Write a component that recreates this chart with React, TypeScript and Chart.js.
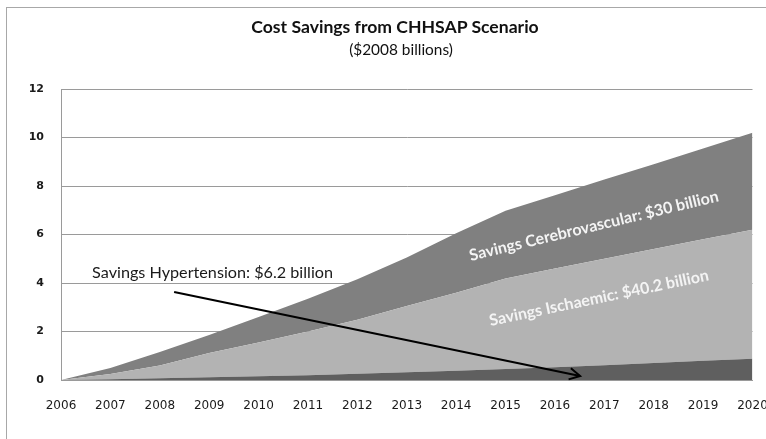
import { useEffect, useRef } from "react";
import { Chart, registerables } from "chart.js";

Chart.register(...registerables);

const years = ["2006", "2007", "2008", "2009", "2010", "2011", "2012", "2013", "2014", "2015", "2016", "2017", "2018", "2019", "2020"];
const hypertension = [0, 0.03, 0.07, 0.11, 0.15, 0.2, 0.26, 0.32, 0.38, 0.45, 0.53, 0.61, 0.7, 0.79, 0.88];
const ischaemic = [0, 0.22, 0.53, 1.0, 1.4, 1.8, 2.22, 2.73, 3.22, 3.74, 4.07, 4.39, 4.7, 5.01, 5.32];
const cerebrovascular = [0, 0.25, 0.55, 0.75, 1.05, 1.35, 1.67, 2.0, 2.45, 2.79, 3.02, 3.27, 3.5, 3.75, 4.0];
const yMin = 0;
const yMax = 12;
const yStep = 2;

const titleText = "Cost Savings from CHHSAP Scenario";
const subtitleText = "($2008 billions)";
const hypLabel = "Savings Hypertension: $6.2 billion";
const cereLabel = "Savings Cerebrovascular: $30 billion";
const ischLabel = "Savings Ischaemic: $40.2 billion";

// annotation anchors in data units (category index, value)
const hypLabelAt = { i: 0.63, v: 4.41 };
const arrowFrom = { i: 2.29, v: 3.63 };
const arrowTo = { i: 10.51, v: 0.165 };
const cereLabelAt = { i: 10.79, v: 6.35, rot: -13.5 };
const ischLabelAt = { i: 10.89, v: 3.38, rot: -11.8 };

const annotPlugin = {
  id: "annot",
  afterDatasetsDraw(chart: any) {
    const { ctx, scales } = chart;
    const x = scales.x;
    const y = scales.y;
    const px = (i: number) => x.getPixelForValue(i);
    const py = (v: number) => y.getPixelForValue(v);
    ctx.save();
    ctx.fillStyle = "#f4f4f4";
    ctx.font = "bold 16px Lato";
    ctx.textAlign = "center";
    ctx.textBaseline = "middle";
    for (const [txt, at] of [[cereLabel, cereLabelAt], [ischLabel, ischLabelAt]] as any) {
      ctx.save();
      ctx.translate(px(at.i), py(at.v));
      ctx.rotate((at.rot * Math.PI) / 180);
      ctx.fillText(txt, 0, 0);
      ctx.restore();
    }
    ctx.fillStyle = "#1a1a1a";
    ctx.font = "16.2px Lato";
    ctx.textAlign = "left";
    ctx.fillText(hypLabel, px(hypLabelAt.i), py(hypLabelAt.v));
    const x1 = px(arrowFrom.i), y1 = py(arrowFrom.v);
    const x2 = px(arrowTo.i), y2 = py(arrowTo.v);
    ctx.strokeStyle = "#000";
    ctx.lineWidth = 2;
    ctx.beginPath();
    ctx.moveTo(x1, y1);
    ctx.lineTo(x2, y2);
    ctx.stroke();
    const ang = Math.atan2(y2 - y1, x2 - x1);
    const len = 12;
    const spread = (28 * Math.PI) / 180;
    ctx.beginPath();
    ctx.moveTo(x2 - len * Math.cos(ang - spread), y2 - len * Math.sin(ang - spread));
    ctx.lineTo(x2, y2);
    ctx.lineTo(x2 - len * Math.cos(ang + spread), y2 - len * Math.sin(ang + spread));
    ctx.stroke();
    ctx.restore();
  },
};

export default function App() {
  const ref = useRef<HTMLCanvasElement | null>(null);
  useEffect(() => {
    if (!ref.current) return;
    const chart = new Chart(ref.current, {
      type: "line",
      data: {
        labels: years,
        datasets: [
          { label: "Hypertension", data: hypertension, backgroundColor: "#5f5f5f", fill: "origin", borderWidth: 0, pointRadius: 0, tension: 0 },
          { label: "Ischaemic", data: ischaemic, backgroundColor: "#b3b3b3", fill: "-1", borderWidth: 0, pointRadius: 0, tension: 0 },
          { label: "Cerebrovascular", data: cerebrovascular, backgroundColor: "#808080", fill: "-1", borderWidth: 0, pointRadius: 0, tension: 0 },
        ],
      },
      options: {
        responsive: false,
        animation: false,
        devicePixelRatio: window.devicePixelRatio || 1,
        layout: { padding: { left: 0, right: 27.5, top: 89, bottom: 0 } },
        plugins: { legend: { display: false }, tooltip: { enabled: false }, title: { display: false } },
        scales: {
          x: {
            type: "category",
            offset: false,
            grid: { display: false, drawTicks: false },
            border: { display: true, color: "#9a9a9a", width: 1 },
            ticks: { color: "#1a1a1a", font: { family: "DejaVu Sans", size: 12 }, padding: 19, maxRotation: 0, autoSkip: false },
            afterFit: (s: any) => { s.height = 59; s.paddingLeft = 0; s.paddingRight = 0; },
          },
          y: {
            stacked: true,
            min: yMin,
            max: yMax,
            ticks: { stepSize: yStep, color: "#1a1a1a", font: { family: "DejaVu Sans", size: 11, weight: "bold" }, padding: 17 },
            grid: { color: "#9a9a9a", lineWidth: 1, drawTicks: false },
            border: { display: true, color: "#9a9a9a", width: 1 },
            afterFit: (s: any) => { s.width = 61; s.paddingTop = 0; s.paddingBottom = 0; },
          },
        },
      },
      plugins: [annotPlugin],
    } as any);
    return () => chart.destroy();
  }, []);

  return (
    <div style={{ position: "fixed", left: 0, top: 0, width: 766, height: 439, overflow: "hidden", background: "#fff" }}>
      <div style={{ position: "absolute", left: 6, top: 7, width: 800, height: 500, borderTop: "1px solid #a8a8a8", borderLeft: "1px solid #a8a8a8" }} />
      <canvas ref={ref} width={780} height={439} style={{ position: "absolute", left: 0, top: 0, width: 780, height: 439 }} />
      <div style={{ position: "absolute", left: 0, width: 790, top: 16, textAlign: "center", font: "bold 17.6px Lato", color: "#111" }}>{titleText}</div>
      <div style={{ position: "absolute", left: 6, width: 790, top: 40, textAlign: "center", font: "15.4px Lato", color: "#111" }}>{subtitleText}</div>
    </div>
  );
}
